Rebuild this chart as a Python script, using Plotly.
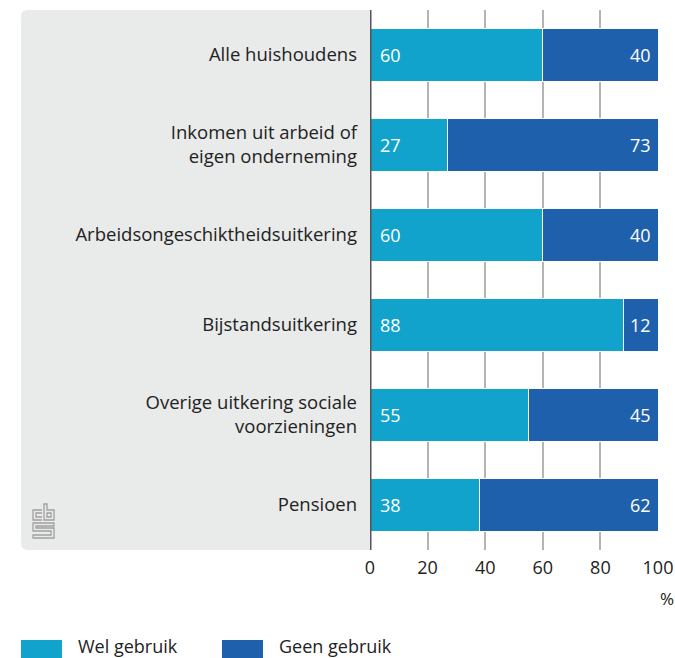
import plotly.graph_objects as go

categories = [
    "Alle huishoudens",
    "Inkomen uit arbeid of<br>eigen onderneming",
    "Arbeidsongeschiktheidsuitkering",
    "Bijstandsuitkering",
    "Overige uitkering sociale<br>voorzieningen",
    "Pensioen",
]
wel = [60, 27, 60, 88, 55, 38]
geen = [40, 73, 40, 12, 45, 62]
x_ticks = [0, 20, 40, 60, 80, 100]

C_WEL = "#11a3cb"
C_GEEN = "#1f60ad"
FONT = "Open Sans"
FS = 18

fig = go.Figure()
fig.add_trace(go.Bar(
    y=categories, x=wel, orientation="h", name="Wel gebruik",
    marker=dict(color=C_WEL, line=dict(color="white", width=1)),
))
fig.add_trace(go.Bar(
    y=categories, x=geen, orientation="h", name="Geen gebruik",
    marker=dict(color=C_GEEN, line=dict(color="white", width=1)),
))

W, H = 675, 658
L, R, T, B = 370, 17, 10, 108
pw = W - L - R
ph = H - T - B

def px(x):
    return (x - L) / pw

def py(y):
    return (H - B - y) / ph

def pix_path(points, close=False):
    s = "M " + " L ".join(f"{px(a)},{py(b)}" for a, b in points)
    return s + (" Z" if close else "")

# grey panel with rounded left corners
x0, x1, y0, y1, r = 21, 370, 10, 550, 7
path = (
    f"M {px(x0 + r)},{py(y0)} L {px(x1)},{py(y0)} L {px(x1)},{py(y1)} "
    f"L {px(x0 + r)},{py(y1)} Q {px(x0)},{py(y1)} {px(x0)},{py(y1 - r)} "
    f"L {px(x0)},{py(y0 + r)} Q {px(x0)},{py(y0)} {px(x0 + r)},{py(y0)} Z"
)
shapes = [dict(type="path", path=path, xref="paper", yref="paper",
               fillcolor="#e9eaea", line=dict(width=0), layer="below")]

# small logo mark in the panel
logo_col = "#a0a0a0"
logo_paths = [
    pix_path([(42, 510), (33, 510), (33, 520), (42, 520)]),
    pix_path([(42, 513), (36, 513), (36, 517), (42, 517)]),
    pix_path([(44, 504), (44, 520), (54, 520), (54, 510), (47, 510), (47, 504)], True),
    pix_path([(47, 513), (51, 513), (51, 517), (47, 517)], True),
    pix_path([(54, 523), (33, 523), (33, 531), (51, 531), (51, 535), (33, 535),
              (33, 538), (54, 538), (54, 528), (36, 528), (36, 526), (54, 526)], True),
]
for pth in logo_paths:
    shapes.append(dict(type="path", path=pth, xref="paper", yref="paper",
                       line=dict(color=logo_col, width=1.3), layer="below"))

# legend swatches
shapes.append(dict(type="rect", xref="paper", yref="paper",
                   x0=px(21), x1=px(62), y0=py(658), y1=py(640),
                   fillcolor=C_WEL, line=dict(width=0)))
shapes.append(dict(type="rect", xref="paper", yref="paper",
                   x0=px(222), x1=px(263), y0=py(658), y1=py(640),
                   fillcolor=C_GEEN, line=dict(width=0)))

annotations = [
    dict(text="%", xref="paper", yref="paper", x=px(676), y=py(598),
         xanchor="right", yanchor="middle", showarrow=False,
         font=dict(size=FS - 1, color="#222", family=FONT)),
    dict(text="Wel gebruik", xref="paper", yref="paper", x=px(76), y=py(646),
         xanchor="left", yanchor="middle", showarrow=False,
         font=dict(size=FS, color="#222", family=FONT)),
    dict(text="Geen gebruik", xref="paper", yref="paper", x=px(277), y=py(646),
         xanchor="left", yanchor="middle", showarrow=False,
         font=dict(size=FS, color="#222", family=FONT)),
]
# value labels inside bars
for cat, w, g in zip(categories, wel, geen):
    annotations.append(dict(text=str(w), x=0, y=cat, xref="x", yref="y",
                            xanchor="left", yanchor="middle", xshift=8,
                            showarrow=False,
                            font=dict(size=FS, color="white", family=FONT)))
    annotations.append(dict(text=str(g), x=w + g, y=cat, xref="x", yref="y",
                            xanchor="right", yanchor="middle", xshift=-5,
                            showarrow=False,
                            font=dict(size=FS, color="white", family=FONT)))

fig.update_layout(
    width=W, height=H, barmode="stack", bargap=0.42,
    margin=dict(l=L, r=R, t=T, b=B, autoexpand=False),
    paper_bgcolor="white", plot_bgcolor="rgba(0,0,0,0)",
    showlegend=False, shapes=shapes, annotations=annotations,
    font=dict(family=FONT, size=FS, color="#222"),
)
fig.update_xaxes(
    range=[0, 100], tickvals=x_ticks, ticktext=[str(v) for v in x_ticks],
    showgrid=True, gridcolor="#b4b4b4", gridwidth=1.5,
    zeroline=False, showline=False, ticks="", automargin=False,
    ticklabelstandoff=5,
    tickfont=dict(size=FS, color="#222", family=FONT),
)
fig.update_yaxes(
    autorange="reversed", showgrid=False, zeroline=False,
    showline=False, ticks="", ticklabelstandoff=12, automargin=False,
    tickfont=dict(size=FS + 0.5, color="#222", family=FONT),
)
# vertical axis line at 0
fig.add_shape(type="line", xref="x", yref="paper", x0=0, x1=0, y0=0, y1=1,
              line=dict(color="#555555", width=3), layer="above")

fig.write_html("out.html")
